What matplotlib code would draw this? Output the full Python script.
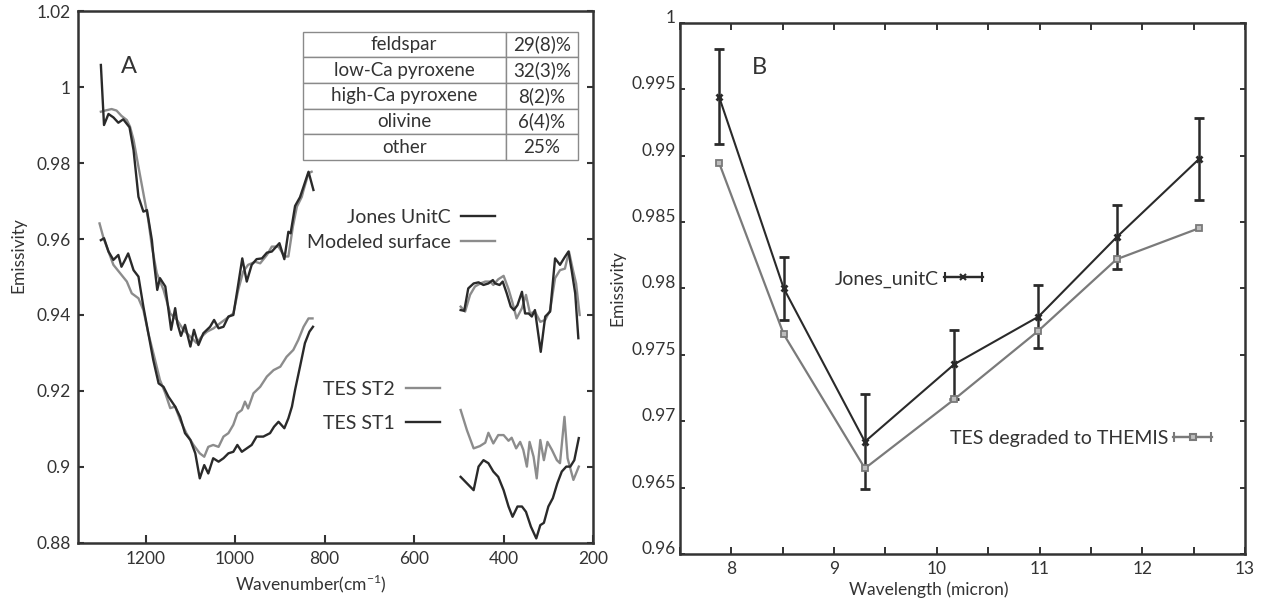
import numpy as np
import matplotlib
matplotlib.use("Agg")
import matplotlib.pyplot as plt
from matplotlib.lines import Line2D
from matplotlib.collections import LineCollection
from matplotlib.container import ErrorbarContainer
from matplotlib.legend_handler import HandlerErrorbar
from matplotlib.ticker import FuncFormatter, MultipleLocator

plt.rcParams['font.family'] = ['Lato', 'DejaVu Sans']
plt.rcParams['text.color'] = '#333333'
plt.rcParams['axes.labelcolor'] = '#333333'
plt.rcParams['xtick.color'] = '#333333'
plt.rcParams['ytick.color'] = '#333333'

# ---- Panel A: emissivity spectra (two spectral segments each) ----
jones_wn_hi = [1300, 1293, 1283, 1272, 1261, 1250, 1236, 1227, 1216, 1205, 1197, 1186, 1181, 1174,
               1168, 1156, 1143, 1134, 1129, 1121, 1112, 1100, 1092, 1082, 1071, 1056, 1047, 1037,
               1026, 1015, 1004, 995, 984, 974, 963, 952, 940, 929, 918, 911, 901, 890, 881, 876,
               866, 855, 847, 836, 825]
jones_em_hi = [1.0058, 0.9900, 0.9929, 0.9920, 0.9906, 0.9915, 0.9894, 0.9834, 0.9711, 0.9672, 0.9676,
               0.9597, 0.9536, 0.9466, 0.9497, 0.9475, 0.9361, 0.9418, 0.9378, 0.9345, 0.9374, 0.9317,
               0.9361, 0.9321, 0.9352, 0.9369, 0.9387, 0.9365, 0.9369, 0.9396, 0.9400, 0.9466, 0.9549,
               0.9488, 0.9532, 0.9547, 0.9549, 0.9564, 0.9567, 0.9576, 0.9589, 0.9547, 0.9619, 0.9615,
               0.9687, 0.9710, 0.9738, 0.9777, 0.9729]
jones_wn_lo = [496, 488, 479, 467, 456, 445, 434, 424, 419, 409, 402, 393, 384, 377, 369, 359, 352,
               344, 337, 330, 317, 307, 296, 285, 274, 263, 255, 248, 240, 233]
jones_em_lo = [0.9413, 0.9411, 0.9470, 0.9483, 0.9486, 0.9479, 0.9483, 0.9492, 0.9483, 0.9479, 0.9488,
               0.9457, 0.9422, 0.9413, 0.9426, 0.9461, 0.9404, 0.9404, 0.9396, 0.9413, 0.9303, 0.9396,
               0.9409, 0.9549, 0.9532, 0.9553, 0.9567, 0.9518, 0.9457, 0.9339]

model_wn_hi = [1300, 1287, 1276, 1265, 1254, 1242, 1235, 1227, 1216, 1205, 1194, 1186, 1175, 1160,
               1145, 1130, 1115, 1100, 1086, 1075, 1063, 1048, 1034, 1019, 1004, 993, 982, 971, 955,
               944, 929, 918, 903, 890, 881, 871, 862, 851, 847, 836, 829]
model_em_hi = [0.9935, 0.9939, 0.9942, 0.9938, 0.9924, 0.9913, 0.9896, 0.9861, 0.9790, 0.9720, 0.9650,
               0.9580, 0.9510, 0.9466, 0.9404, 0.9387, 0.9360, 0.9343, 0.9326, 0.9343, 0.9356, 0.9365,
               0.9378, 0.9391, 0.9404, 0.9466, 0.9514, 0.9532, 0.9540, 0.9536, 0.9558, 0.9580, 0.9580,
               0.9554, 0.9554, 0.9632, 0.9685, 0.9711, 0.9729, 0.9773, 0.9777]
model_wn_lo = [496, 486, 475, 464, 452, 441, 430, 423, 412, 400, 389, 380, 371, 359, 350, 341, 330,
               318, 307, 296, 285, 274, 263, 254, 245, 238, 230]
model_em_lo = [0.9422, 0.9409, 0.9453, 0.9475, 0.9483, 0.9488, 0.9488, 0.9479, 0.9494, 0.9503, 0.9468,
               0.9432, 0.9391, 0.9418, 0.9453, 0.9404, 0.9409, 0.9382, 0.9387, 0.9413, 0.9497, 0.9518,
               0.9522, 0.9567, 0.9518, 0.9483, 0.9400]

st1_wn_hi = [1300, 1293, 1283, 1272, 1261, 1254, 1246, 1239, 1227, 1216, 1205, 1194, 1183, 1171, 1160,
             1149, 1134, 1123, 1112, 1100, 1089, 1079, 1069, 1060, 1049, 1037, 1026, 1015, 1004, 995,
             985, 974, 963, 952, 937, 922, 913, 903, 890, 881, 873, 866, 855, 844, 834, 826]
st1_em_hi = [0.9597, 0.9602, 0.9567, 0.9545, 0.9558, 0.9527, 0.9545, 0.9562, 0.9518, 0.9501, 0.9422,
             0.9352, 0.9282, 0.9220, 0.9211, 0.9185, 0.9159, 0.9132, 0.9089, 0.9071, 0.9036, 0.8970,
             0.9005, 0.8983, 0.9023, 0.9014, 0.9023, 0.9036, 0.9040, 0.9058, 0.9040, 0.9049, 0.9058,
             0.9080, 0.9080, 0.9089, 0.9106, 0.9119, 0.9102, 0.9128, 0.9159, 0.9203, 0.9264, 0.9326,
             0.9356, 0.9369]
st1_wn_lo = [496, 482, 467, 456, 445, 434, 423, 412, 400, 389, 380, 369, 359, 350, 339, 327, 318, 310,
             300, 290, 280, 270, 260, 251, 242, 232]
st1_em_lo = [0.8974, 0.8957, 0.8939, 0.9001, 0.9018, 0.9010, 0.8988, 0.8974, 0.8939, 0.8896, 0.8869,
             0.8896, 0.8896, 0.8882, 0.8843, 0.8812, 0.8847, 0.8853, 0.8896, 0.8918, 0.8957, 0.8988,
             0.9001, 0.9001, 0.9018, 0.9076]

st2_wn_hi = [1303, 1294, 1283, 1272, 1257, 1242, 1231, 1216, 1205, 1194, 1179, 1168, 1156, 1145, 1134,
             1123, 1109, 1093, 1079, 1069, 1060, 1049, 1037, 1026, 1015, 1004, 995, 985, 978, 971, 959,
             944, 929, 914, 899, 885, 870, 859, 847, 836, 827]
st2_em_hi = [0.9641, 0.9602, 0.9567, 0.9532, 0.9510, 0.9488, 0.9457, 0.9444, 0.9413, 0.9352, 0.9282,
             0.9229, 0.9194, 0.9155, 0.9159, 0.9124, 0.9089, 0.9058, 0.9036, 0.9027, 0.9053, 0.9058,
             0.9053, 0.9080, 0.9089, 0.9111, 0.9141, 0.9150, 0.9172, 0.9154, 0.9194, 0.9211, 0.9238,
             0.9255, 0.9264, 0.9290, 0.9308, 0.9334, 0.9369, 0.9391, 0.9391]
st2_wn_lo = [496, 482, 467, 453, 441, 434, 423, 412, 400, 389, 382, 372, 363, 356, 348, 342, 333, 326,
             318, 310, 302, 292, 281, 274, 264, 257, 244, 232]
st2_em_lo = [0.9150, 0.9097, 0.9049, 0.9055, 0.9064, 0.9090, 0.9062, 0.9084, 0.9084, 0.9069, 0.9077,
             0.9049, 0.9066, 0.9045, 0.9001, 0.9066, 0.9027, 0.8970, 0.9071, 0.9018, 0.9066, 0.9045,
             0.9018, 0.9010, 0.9132, 0.9023, 0.8966, 0.9001]

minerals = ['feldspar', 'low-Ca pyroxene', 'high-Ca pyroxene', 'olivine', 'other']
abundances = ['29(8)%', '32(3)%', '8(2)%', '6(4)%', '25%']

# ---- Panel B: THEMIS band emissivity ----
wavelength = [7.88, 8.51, 9.30, 10.17, 10.99, 11.75, 12.55]
jones_band = [0.99445, 0.98001, 0.96846, 0.97429, 0.97788, 0.98386, 0.98973]
jones_band_err = [0.0036, 0.0024, 0.0036, 0.0026, 0.0024, 0.0024, 0.0031]
tes_band = [0.98948, 0.97655, 0.96645, 0.97165, 0.97682, 0.98220, 0.98453]

DARK = '#2a2a2a'
GRAY = '#8c8c8c'
SPINE = '#333333'
FS = 12.5

fig = plt.figure(figsize=(12.63, 6.05), dpi=100)
axA = fig.add_axes([0.0618, 0.1025, 0.4078, 0.8793])
axB = fig.add_axes([0.5384, 0.0843, 0.4473, 0.8777])

fmt = FuncFormatter(lambda v, p: f'{v:g}')

# Panel A
lw = 1.7
axA.plot(model_wn_hi, model_em_hi, color=GRAY, lw=lw, label='Modeled surface')
axA.plot(model_wn_lo, model_em_lo, color=GRAY, lw=lw)
axA.plot(jones_wn_hi, jones_em_hi, color=DARK, lw=lw, label='Jones UnitC')
axA.plot(jones_wn_lo, jones_em_lo, color=DARK, lw=lw)
axA.plot(st2_wn_hi, st2_em_hi, color=GRAY, lw=lw, label='TES ST2')
axA.plot(st2_wn_lo, st2_em_lo, color=GRAY, lw=lw)
axA.plot(st1_wn_hi, st1_em_hi, color=DARK, lw=lw, label='TES ST1')
axA.plot(st1_wn_lo, st1_em_lo, color=DARK, lw=lw)

axA.set_xlim(1351, 200)
axA.set_ylim(0.88, 1.02)
axA.set_xticks([1200, 1000, 800, 600, 400, 200])
axA.set_yticks(np.arange(0.88, 1.0201, 0.02))
axA.yaxis.set_major_formatter(fmt)
axA.tick_params(axis='x', direction='in', length=6, width=1.5, pad=6, labelsize=FS, top=False)
axA.tick_params(axis='y', direction='in', length=4.5, width=1.5, pad=5, labelsize=FS, right=True)
for s in axA.spines.values():
    s.set_linewidth(1.8)
    s.set_color(SPINE)
axA.set_xlabel('Wavenumber(cm$^{\\mathregular{-1}}$)', fontsize=FS, labelpad=0)
axA.xaxis.set_label_coords(0.452, -0.056)
axA.set_ylabel('Emissivity', fontsize=FS, labelpad=4)
axA.yaxis.set_label_coords(-0.100, 0.541)
axA.text(0.099, 0.895, 'A', transform=axA.transAxes, fontsize=17, ha='center', va='center')

h = {l.get_label(): l for l in axA.get_lines()}
legA1 = axA.legend([h['Jones UnitC'], h['Modeled surface']], ['Jones UnitC', 'Modeled surface'],
                   loc='upper right', bbox_to_anchor=(0.81, 0.628), frameon=False, markerfirst=False,
                   fontsize=14, handlelength=1.75, handletextpad=0.55, labelspacing=0.4,
                   borderpad=0, borderaxespad=0)
axA.add_artist(legA1)
axA.legend([h['TES ST2'], h['TES ST1']], ['TES ST2', 'TES ST1'],
           loc='upper left', bbox_to_anchor=(0.475, 0.305), frameon=False, markerfirst=False,
           fontsize=14, handlelength=1.75, handletextpad=0.6, labelspacing=0.9,
           borderpad=0, borderaxespad=0)

tbl = axA.table(cellText=[[m, a] for m, a in zip(minerals, abundances)], cellLoc='center',
                colWidths=[0.737, 0.263], bbox=[0.436, 0.720, 0.535, 0.241])
tbl.auto_set_font_size(False)
tbl.set_fontsize(13.5)
for cell in tbl.get_celld().values():
    cell.set_edgecolor('#8a8a8a')
    cell.set_linewidth(1.0)
    cell.get_text().set_color('#333333')

# Panel B
axB.errorbar(wavelength, jones_band, yerr=jones_band_err, color=DARK, lw=1.5, elinewidth=1.8,
             capsize=3.5, capthick=1.5, marker='x', ms=5, mew=2)
axB.plot(wavelength, tes_band, color='#7a7a7a', lw=1.6, marker='s', ms=5, mfc='#bdbdbd',
         mec='#7a7a7a', mew=1.3)

axB.set_xlim(7.5, 13)
axB.set_ylim(0.96, 1.0)
axB.set_xticks(np.arange(8, 13.01, 1))
axB.xaxis.set_minor_locator(MultipleLocator(0.5))
axB.set_yticks(np.arange(0.96, 1.0001, 0.005))
axB.yaxis.set_major_formatter(fmt)
axB.tick_params(axis='x', which='both', direction='in', length=5, width=1.4, pad=5,
                labelsize=FS, top=True)
axB.tick_params(axis='y', direction='in', length=3.5, width=1.4, pad=3, labelsize=FS, right=True)
for t in axB.get_yticklabels():
    t.set_va('baseline')
for s in axB.spines.values():
    s.set_linewidth(1.8)
    s.set_color(SPINE)
axB.set_xlabel('Wavelength (micron)', fontsize=FS, labelpad=1)
axB.xaxis.set_label_coords(0.44, -0.051)
axB.set_ylabel('Emissivity', fontsize=FS)
axB.yaxis.set_label_coords(-0.096, 0.5)
axB.text(0.14, 0.917, 'B', transform=axB.transAxes, fontsize=17, ha='center', va='center')


def err_proxy(color, marker, mfc):
    line = Line2D([], [], color=color, lw=1.6, marker=marker, ms=5, mfc=mfc, mec=color, mew=1.5)
    cap = Line2D([], [], color=color, marker='|', ms=7, mew=1.5, ls='none')
    bars = LineCollection([], colors=color, linewidths=1.6)
    return ErrorbarContainer((line, [cap], [bars]), has_xerr=True, has_yerr=False)


hmap = {ErrorbarContainer: HandlerErrorbar(xerr_size=0.95)}
legB1 = axB.legend([err_proxy(DARK, 'x', DARK)], ['Jones_unitC'], loc='center left',
                   bbox_to_anchor=(0.274, 0.518), frameon=False, markerfirst=False, fontsize=14,
                   handlelength=2.0, handletextpad=0.25, borderpad=0, borderaxespad=0,
                   handler_map=hmap)
axB.add_artist(legB1)
axB.legend([err_proxy('#7a7a7a', 's', '#bdbdbd')], ['TES degraded to THEMIS'], loc='center left',
           bbox_to_anchor=(0.478, 0.217), frameon=False, markerfirst=False, fontsize=14,
           handlelength=2.0, handletextpad=0.25, borderpad=0, borderaxespad=0, handler_map=hmap)

fig.savefig('out.png', dpi=100)
